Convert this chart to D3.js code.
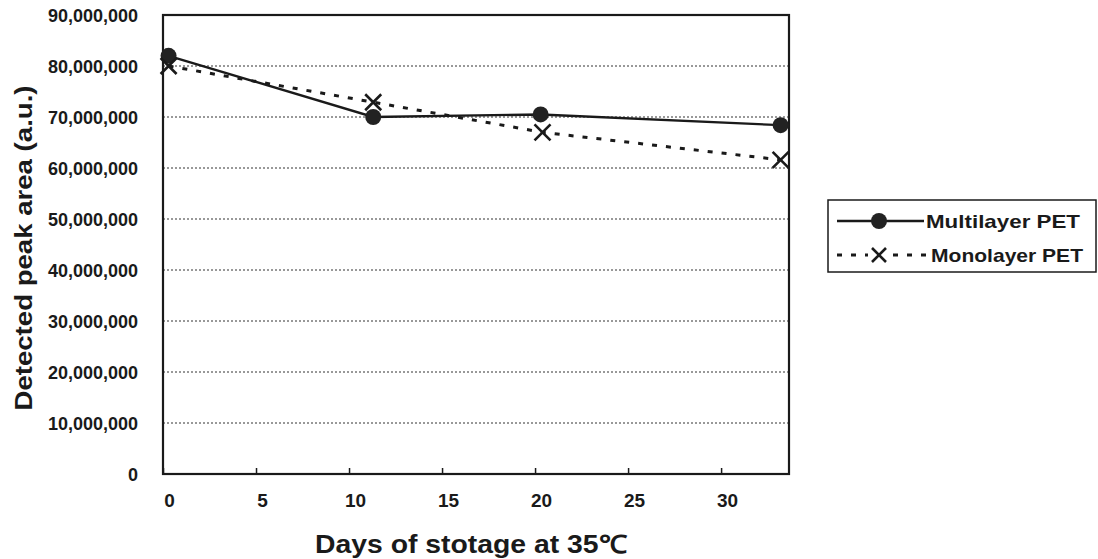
<!DOCTYPE html>
<html>
<head>
<meta charset="utf-8">
<script src="https://cdn.jsdelivr.net/npm/d3@7/dist/d3.min.js"></script>
<style>
  html, body { margin: 0; padding: 0; background: #fff; }
  svg { display: block; }
  text { font-family: "Liberation Sans", Arial, sans-serif; font-weight: bold; fill: #1a1a1a; }
</style>
</head>
<body>
<svg id="chart" width="1098" height="559"></svg>
<script>
// ---- data ----
const multiDays = [0.3, 11.3, 20.3, 33.2];
const multiValues = [82000000, 70000000, 70500000, 68400000];
const monoDays = [0.3, 11.3, 20.4, 33.2];
const monoValues = [80000000, 72900000, 67000000, 61600000];
const seriesNames = ["Multilayer PET", "Monolayer PET"];
const xTicks = [0, 5, 10, 15, 20, 25, 30];
const yTicks = [0, 10000000, 20000000, 30000000, 40000000, 50000000, 60000000, 70000000, 80000000, 90000000];
const xTitle = "Days of stotage at 35℃";
const yTitle = "Detected peak area (a.u.)";

const svg = d3.select("#chart");
const ink = "#1a1a1a";
const L = 163, R = 789, T = 15, B = 474;

const x = d3.scaleLinear().domain([0, 33.65]).range([L, R]);
const y = d3.scaleLinear().domain([0, 90000000]).range([B, T]);

// gridlines
svg.append("g").selectAll("line")
  .data(yTicks.filter(v => v > 0 && v < 90000000))
  .join("line")
  .attr("x1", L).attr("x2", R)
  .attr("y1", d => y(d)).attr("y2", d => y(d))
  .attr("stroke", "#333").attr("stroke-width", 1)
  .attr("stroke-dasharray", "2,2");

// y axis labels
const fmt = d3.format(",");
const yAxis = d3.axisLeft(y).tickValues(yTicks).tickFormat(fmt).tickSize(0).tickPadding(25);
const gy = svg.append("g").attr("transform", `translate(${L},0)`).call(yAxis);
gy.select(".domain").remove();
gy.selectAll("text").style("font-size", "18px").attr("font-family", null).attr("fill", ink).attr("dy", "0.36em");

// x axis
const xAxis = d3.axisBottom(x).tickValues(xTicks).tickSize(-6).tickPadding(20);
const gx = svg.append("g").attr("transform", `translate(0,${B})`).call(xAxis);
gx.select(".domain").remove();
gx.selectAll("line").attr("stroke", ink).attr("stroke-width", 1.5);
gx.selectAll("text").style("font-size", "19px").attr("font-family", null).attr("fill", ink).attr("dx", 6);

// plot frame
svg.append("rect").attr("x", L).attr("y", T).attr("width", R - L).attr("height", B - T)
  .attr("fill", "none").attr("stroke", ink).attr("stroke-width", 2.2);

// lines
const multi = multiDays.map((d, i) => [d, multiValues[i]]);
const mono = monoDays.map((d, i) => [d, monoValues[i]]);
const line = d3.line().x(d => x(d[0])).y(d => y(d[1]));

svg.append("path").datum(mono).attr("d", line).attr("fill", "none")
  .attr("stroke", ink).attr("stroke-width", 3).attr("stroke-dasharray", "5,9");
svg.append("path").datum(multi).attr("d", line).attr("fill", "none")
  .attr("stroke", ink).attr("stroke-width", 2.4);

// markers
function cross(g, cx, cy, s) {
  g.append("path")
    .attr("d", `M${cx - s},${cy - s}L${cx + s},${cy + s}M${cx - s},${cy + s}L${cx + s},${cy - s}`)
    .attr("stroke", ink).attr("stroke-width", 2.6).attr("fill", "none");
}
const gm = svg.append("g");
multi.forEach(d => {
  gm.append("circle").attr("cx", x(d[0])).attr("cy", y(d[1])).attr("r", 8).attr("fill", "#222");
});
mono.forEach(d => cross(gm, x(d[0]), y(d[1]), 8));

// titles
svg.append("text").attr("x", 471).attr("y", 553).attr("text-anchor", "middle")
  .style("font-size", "25px").attr("textLength", 312).attr("lengthAdjust", "spacingAndGlyphs")
  .text(xTitle);
svg.append("text").attr("transform", "translate(32,248) rotate(-90)").attr("text-anchor", "middle")
  .style("font-size", "23px").attr("textLength", 325).attr("lengthAdjust", "spacingAndGlyphs")
  .text(yTitle);

// legend
const lg = svg.append("g");
lg.append("rect").attr("x", 828).attr("y", 200).attr("width", 268).attr("height", 72)
  .attr("fill", "#fff").attr("stroke", ink).attr("stroke-width", 1.5);
// row 1
lg.append("line").attr("x1", 837).attr("x2", 924).attr("y1", 221).attr("y2", 221)
  .attr("stroke", ink).attr("stroke-width", 2.4);
lg.append("circle").attr("cx", 879).attr("cy", 221).attr("r", 8).attr("fill", "#222");
lg.append("text").attr("x", 926).attr("y", 228).style("font-size", "19px")
  .attr("textLength", 154).attr("lengthAdjust", "spacingAndGlyphs").text(seriesNames[0]);
// row 2
lg.append("line").attr("x1", 837).attr("x2", 930).attr("y1", 255).attr("y2", 255)
  .attr("stroke", ink).attr("stroke-width", 3).attr("stroke-dasharray", "5,9");
lg.append("rect").attr("x", 868).attr("y", 245).attr("width", 22).attr("height", 20).attr("fill", "#fff");
cross(lg, 879, 255, 7);
lg.append("text").attr("x", 931).attr("y", 262).style("font-size", "19px")
  .attr("textLength", 152).attr("lengthAdjust", "spacingAndGlyphs").text(seriesNames[1]);
</script>
</body>
</html>
